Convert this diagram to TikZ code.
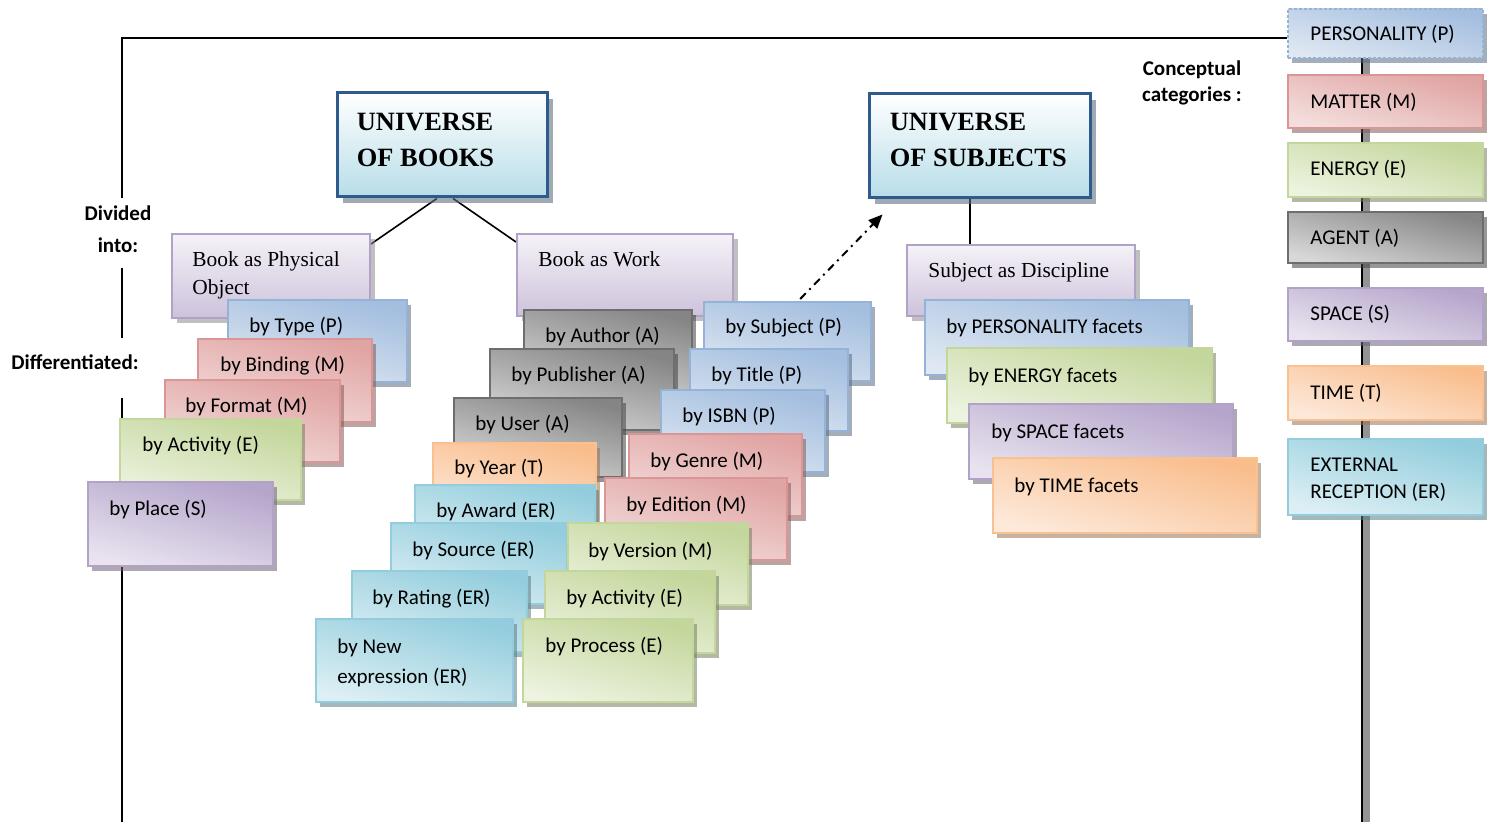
\documentclass[tikz,border=0pt]{standalone}
\usepackage{fontspec}
\setmainfont{Liberation Serif}
\newfontfamily\calfont{Carlito}
\usetikzlibrary{calc,fit,shadows,arrows.meta}
\pgfdeclarelayer{bg}
\pgfsetlayers{bg,main}
\definecolor{Pb}{HTML}{95B3D7}\definecolor{Pd}{HTML}{A3BEDF}\definecolor{Pl}{HTML}{DEE7F2}
\definecolor{Mb}{HTML}{D99694}\definecolor{Md}{HTML}{E0A4A3}\definecolor{Ml}{HTML}{F3DEDD}
\definecolor{Eb}{HTML}{C3D69B}\definecolor{Ed}{HTML}{C3D69B}\definecolor{El}{HTML}{EDF3E0}
\definecolor{Ab}{HTML}{6E6E6E}\definecolor{Ad}{HTML}{858585}\definecolor{Al}{HTML}{D8D8D8}
\definecolor{Sb}{HTML}{B2A2C7}\definecolor{Sd}{HTML}{B5A5CB}\definecolor{Sl}{HTML}{E8E3EF}
\definecolor{Tb}{HTML}{FAC090}\definecolor{Td}{HTML}{F9BD8C}\definecolor{Tl}{HTML}{FDE9DA}
\definecolor{Rb}{HTML}{93CDDD}\definecolor{Rd}{HTML}{93CDDD}\definecolor{Rl}{HTML}{DCEFF4}
\definecolor{Lb}{HTML}{B2A2C7}\definecolor{Lt}{HTML}{F5F2F8}\definecolor{Lbot}{HTML}{CDC2DB}
\definecolor{Ub}{HTML}{2F5B8C}\definecolor{Ubot}{HTML}{B7DDE8}
\newcommand\mybox[9]{%
  \node[#2, fit={(#3,#4) (#5,#6)}] (#1) {};
  \node[lbl, #8] (#1-t) at ($(#1.north west)+(#7)$) {#9};}
\begin{document}
\begin{tikzpicture}[x=0.5pt,y=-0.5pt,
  boxbase/.style={inner sep=0pt, line width=1pt},
  shadebox/.style n args={3}{boxbase, draw=#1, top color=#2, bottom color=#3, shading angle=-15,
     drop shadow={shadow xshift=2pt, shadow yshift=-2.5pt, fill=#1!60!black, opacity=.55}},
  catP/.style={shadebox={Pb}{Pd}{Pl}},
  catM/.style={shadebox={Mb}{Md}{Ml}},
  catE/.style={shadebox={Eb}{Ed}{El}},
  catA/.style={shadebox={Ab}{Ad}{Al}},
  catS/.style={shadebox={Sb}{Sd}{Sl}},
  catT/.style={shadebox={Tb}{Td}{Tl}},
  catR/.style={shadebox={Rb}{Rd}{Rl}},
  lav/.style={boxbase, draw=Lb, top color=Lt, bottom color=Lbot,
     drop shadow={shadow xshift=2.5pt, shadow yshift=-2.5pt, fill=black!45, opacity=.55}},
  univ/.style={inner sep=0pt, line width=1.5pt, draw=Ub, top color=white, bottom color=Ubot,
     drop shadow={shadow xshift=3pt, shadow yshift=-3pt, fill=Ub!40!gray, opacity=.6}},
  lbl/.style={font=\calfont\fontsize{10.5}{15}\selectfont, inner sep=0pt, anchor=base west, align=left},
  tms/.style={font=\fontsize{10.7}{14}\selectfont},
  unit/.style={font=\bfseries\fontsize{13.2}{18}\selectfont},
  side/.style={font=\calfont\bfseries\fontsize{10.5}{16}\selectfont, inner sep=0pt, align=center},
  conn/.style={line width=0.8pt, draw=black},
  frame/.style={line width=1pt, draw=black},
  dotarrow/.style={line width=1pt, dash pattern=on 4pt off 2.5pt on 1pt off 2.5pt, -{Triangle[length=7pt,width=6pt]}}
]
\useasboundingbox (0,0) rectangle (1493,822);

% universes (anchor base = baseline of the last line)
\mybox{books}{univ}{337}{93}{547}{197}{21,75}{unit}{UNIVERSE\\OF BOOKS}
\mybox{subjects}{univ}{869}{94}{1090}{198}{22,74}{unit}{UNIVERSE\\OF SUBJECTS}

% left column
\mybox{phys}{lav}{172}{234}{370}{318}{21,62}{tms}{Book as Physical\\Object}
\mybox{type}{catP}{228}{300}{407}{382}{22,34}{}{by Type (P)}
\mybox{binding}{catM}{198}{339}{372}{422}{23,34}{}{by Binding (M)}
\mybox{format}{catM}{165}{380}{340}{462}{21,34}{}{by Format (M)}
\mybox{activityl}{catE}{120}{419}{301}{500}{23,34}{}{by Activity (E)}
\mybox{place}{catS}{88}{482}{273}{566}{22,35}{}{by Place (S)}

% middle column
\mybox{work}{lav}{517}{234}{733}{316}{22,34}{tms}{Book as Work}
\mybox{author}{catA}{524}{310}{692}{392}{22,34}{}{by Author (A)}
\mybox{subject}{catP}{704}{302}{871}{381}{22,33}{}{by Subject (P)}
\mybox{publisher}{catA}{490}{349}{674}{430}{22,34}{}{by Publisher (A)}
\mybox{title}{catP}{690}{349}{848}{431}{22,34}{}{by Title (P)}
\mybox{user}{catA}{454}{398}{622}{477}{22,34}{}{by User (A)}
\mybox{isbn}{catP}{661}{390}{825}{472}{22,34}{}{by ISBN (P)}
\mybox{year}{catT}{433}{443}{596}{521}{22,33}{}{by Year (T)}
\mybox{genre}{catM}{629}{434}{802}{516}{22,35}{}{by Genre (M)}
\mybox{award}{catR}{415}{485}{595}{565}{22,34}{}{by Award (ER)}
\mybox{edition}{catM}{605}{478}{787}{560}{22,35}{}{by Edition (M)}
\mybox{source}{catR}{391}{523}{567}{604}{22,35}{}{by Source (ER)}
\mybox{version}{catE}{568}{523}{748}{605}{21,36}{}{by Version (M)}
\mybox{rating}{catR}{352}{571}{527}{652}{21,35}{}{by Rating (ER)}
\mybox{activitym}{catE}{545}{571}{715}{653}{22,35}{}{by Activity (E)}
\mybox{newexp}{catR}{316}{619}{513}{702}{22,65}{}{by New\\expression (ER)}
\mybox{process}{catE}{523}{619}{693}{702}{23,35}{}{by Process (E)}

% right column
\mybox{disc}{lav}{907}{245}{1135}{316}{22,34}{tms}{Subject as Discipline}
\mybox{pers}{catP}{925}{300}{1189}{375}{22,35}{}{by PERSONALITY facets}
\mybox{energy}{catE}{947}{348}{1212}{423}{22,36}{}{by ENERGY facets}
\mybox{space}{catS}{969}{404}{1233}{479}{23,36}{}{by SPACE facets}
\mybox{time}{catT}{993}{458}{1257}{533}{22,36}{}{by TIME facets}

% categories
\mybox{cP}{catP, dash pattern=on 1.5pt off 1pt}{1288}{9}{1483}{58}{23,33}{}{PERSONALITY (P)}
\mybox{cM}{catM}{1288}{75}{1483}{128}{23,35}{}{MATTER (M)}
\mybox{cE}{catE}{1288}{143}{1483}{197}{23,34}{}{ENERGY (E)}
\mybox{cA}{catA}{1288}{212}{1483}{263}{23,34}{}{AGENT (A)}
\mybox{cS}{catS}{1288}{288}{1483}{341}{23,34}{}{SPACE (S)}
\mybox{cT}{catT}{1288}{366}{1483}{420}{23,35}{}{TIME (T)}
\mybox{cER}{catR}{1288}{439}{1483}{515}{23,61}{font=\calfont\fontsize{10.5}{13.5}\selectfont}{EXTERNAL\\RECEPTION (ER)}

% side labels
\node[side] (divided) at (118,229) {Divided\\into:};
\node[side] (diff) at (75,362) {Differentiated:};
\node[side, font=\calfont\bfseries\fontsize{10.5}{13}\selectfont] (concept) at (1192,83) {Conceptual\\categories :};

% frame coordinates
\coordinate (tl) at (122,38);
\coordinate (l1) at (122,198);
\coordinate (l2) at (122,268);
\coordinate (l3) at (122,338);
\coordinate (l4) at (122,398);
\coordinate (lb) at (122,822);
\coordinate (rtop) at (1362,58);
\coordinate (rbot) at (1362,822);
\coordinate (rgtop) at (1366.5,58);
\coordinate (rgbot) at (1366.5,822);

\begin{pgfonlayer}{bg}
  \draw[frame] (l1) -- (tl) -- (tl -| cP.west);
  \draw[frame] (l2) -- (l3);
  \draw[frame] (l4) -- (lb);
  \draw[line width=3.5pt, draw=gray!85] (rgtop) -- (rgbot);
  \draw[frame] (rtop) -- (rbot);
  \draw[conn] ($(books.south west)!0.476!(books.south east)$) -- ($(phys.north east)+(0,11)$);
  \draw[conn] ($(books.south west)!0.552!(books.south east)$) -- ($(work.north west)+(0,9)$);
  \coordinate (s1) at ($(subjects.south west)!0.457!(subjects.south east)$);
  \draw[conn] (s1) -- (s1 |- disc.north);
  \coordinate (arrowend) at ($(subjects.south west)+(15,15)$);
  \draw[dotarrow] ($(subject.north west)!0.575!(subject.north east)+(0,-2)$) -- (arrowend);
\end{pgfonlayer}
\end{tikzpicture}
\end{document}
